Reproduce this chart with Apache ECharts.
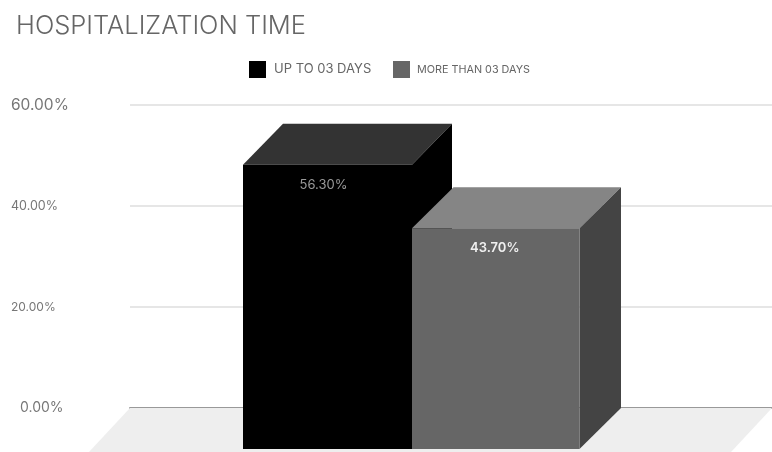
<!DOCTYPE html>
<html><head><meta charset="utf-8">
<style>html,body{margin:0;padding:0;background:#fff}#c{width:772px;height:452px}</style>
<script src="https://cdn.jsdelivr.net/npm/echarts@6/dist/echarts.min.js"></script>
</head><body><div id="c"></div>
<script>
const titleText = 'HOSPITALIZATION TIME';
const seriesNames = ['UP TO 03 DAYS', 'MORE THAN 03 DAYS'];
const seriesValues = [56.3, 43.7];
const valueTicks = [0, 20, 40, 60];
const category = ['Hospitalization time'];

const FONT = 'Inter';
const DEPTH_X = 40, DEPTH_Y = 41, BAR_W = 169, CENTER_SHIFT = 1;
const faces = [
  {front:'#000000', top:'#333333', side:'#000000', label:'#9a9a9a', weight:400, width:BAR_W, depth:DEPTH_X},
  {front:'#666666', top:'#858585', side:'#444444', label:'#f0f0f0', weight:600, width:BAR_W-1.5, depth:DEPTH_X+1.5}
];

function barRender(idx){
  return function(params, api){
    const top = api.coord([0, api.value(1)]);
    const base = api.coord([0, 0]);
    const f = faces[idx];
    const x0 = top[0] + CENTER_SHIFT - DEPTH_X + (idx - 1) * BAR_W;
    const x1 = x0 + f.width;
    const yT = top[1] + DEPTH_Y, yB = base[1] + DEPTH_Y;
    const poly = (pts, fill) => ({type:'polygon', shape:{points:pts}, style:{fill}});
    return {type:'group', children:[
      poly([[x0,yT],[x0+f.depth,top[1]],[x1+f.depth,top[1]],[x1,yT]], f.top),
      poly([[x1,yT],[x1+f.depth,top[1]],[x1+f.depth,base[1]],[x1,yB]], f.side),
      poly([[x0,yT],[x1,yT],[x1,yB],[x0,yB]], f.front),
      {type:'text', style:{
        text: api.value(1).toFixed(2)+'%', x:(x0+x1)/2 - (idx===0?4:1), y:yT+20,
        align:'center', verticalAlign:'middle', fill:f.label,
        font:f.weight+' 13px '+FONT}}
    ]};
  };
}
function floorRender(params, api){
  const cs = params.coordSys;
  const y0 = api.coord([0, 0])[1];
  const dy = 44, dx = 41;
  return {type:'polygon', silent:true, shape:{points:[
    [cs.x,y0],[cs.x+cs.width,y0],[cs.x+cs.width-dx,y0+dy],[cs.x-dx,y0+dy]
  ]}, style:{fill:'#eeeeee'}};
}

const chart = echarts.init(document.getElementById('c'), null, {renderer:'canvas'});
chart.setOption({
  animation:false,
  backgroundColor:'#ffffff',
  title:{text:titleText, left:16, top:13, padding:0, textStyle:{fontFamily:FONT, fontSize:25.5, fontWeight:300, color:'#666666'}},
  legend:[
    {data:[seriesNames[0]], left:249, top:61, padding:0, itemWidth:17, itemHeight:17, itemGap:8, icon:'rect',
     textStyle:{fontFamily:FONT, fontSize:13, color:'#666666', padding:[0,0,4,3]}},
    {data:[seriesNames[1]], left:393, top:61, padding:0, itemWidth:17, itemHeight:17, itemGap:7, icon:'rect',
     textStyle:{fontFamily:FONT, fontSize:10.8, color:'#666666', padding:[0,0,0,2]}}
  ],
  grid:{left:130, top:105, width:648, height:303},
  xAxis:{type:'category', data:category, axisTick:{show:false}, axisLabel:{show:false},
    axisLine:{show:true, lineStyle:{color:'#999999', width:2}}},
  yAxis:{type:'value', min:valueTicks[0], max:valueTicks[valueTicks.length-1], interval:20,
    axisLine:{show:false}, axisTick:{show:false},
    splitLine:{lineStyle:{color:'#e6e6e6', width:2}},
    axisLabel:{
      formatter:v=>'{t'+v+'|'+v.toFixed(2)+'%}',
      align:'left', margin:119, color:'#777777', fontFamily:FONT,
      rich:{
        t60:{fontFamily:FONT, fontSize:15.5, color:'#777777'},
        t40:{fontFamily:FONT, fontSize:12.5, color:'#777777'},
        t20:{fontFamily:FONT, fontSize:12, color:'#777777'},
        t0:{fontFamily:FONT, fontSize:14, color:'#777777', padding:[0,0,0,9]}
      }}},
  series:[
    {type:'custom', name:'floor', silent:true, z:1, data:[[0,0]], renderItem:floorRender, clip:false},
    {type:'custom', name:seriesNames[0], z:3, clip:false, data:[[0,seriesValues[0]]], encode:{x:0,y:1},
     itemStyle:{color:faces[0].front}, renderItem:barRender(0)},
    {type:'custom', name:seriesNames[1], z:4, clip:false, data:[[0,seriesValues[1]]], encode:{x:0,y:1},
     itemStyle:{color:faces[1].front}, renderItem:barRender(1)}
  ]
});
</script></body></html>
